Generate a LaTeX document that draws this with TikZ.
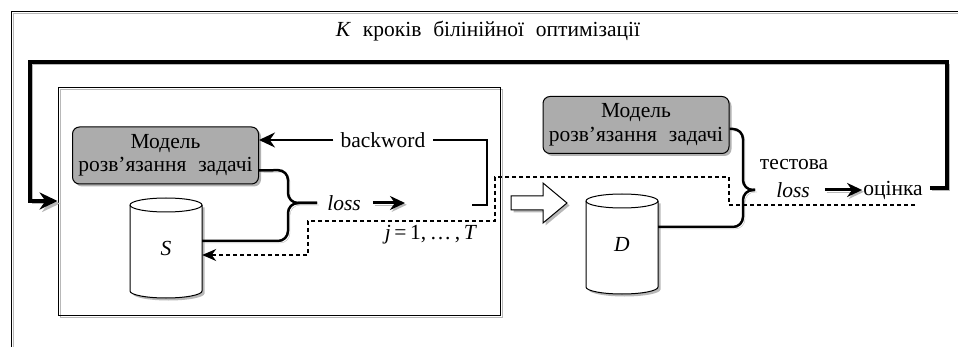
\documentclass[tikz,border=0pt]{standalone}
\usepackage{fontspec}
\setmainfont{Liberation Serif}
\usetikzlibrary{shadows,arrows.meta,calc}

% wide inter-word gap used in the labels
\newcommand\wsp{\hspace{0.55em}}

% a vertical cylinder: centre x, top-ellipse y, bottom-ellipse y
\newcommand\datacyl[3]{%
  \fill[black!28] (#1-36+2.5,#2+2.5) -- (#1-36+2.5,#3+2.5)
    arc[start angle=180,end angle=360,x radius=36pt,y radius=7pt]
    -- (#1+36+2.5,#2+2.5) -- cycle;
  \draw[line width=1pt,fill=white] (#1-36,#2) -- (#1-36,#3)
    arc[start angle=180,end angle=360,x radius=36pt,y radius=7pt]
    -- (#1+36,#2)
    arc[start angle=0,end angle=180,x radius=36pt,y radius=7pt] -- cycle;
  \draw[line width=1pt] (#1-36,#2)
    arc[start angle=180,end angle=360,x radius=36pt,y radius=7pt];
}

\begin{document}
\begin{tikzpicture}[x=1pt,y=-1pt,
  every node/.style={font=\fontsize{21.5}{23.5}\selectfont},
  shd/.style={preaction={draw=black!28,transform canvas={xshift=#1,yshift=-#1}}},
  shd/.default=1.8pt,
  model/.style={draw,line width=1pt,rounded corners=7pt,fill=gray!65,
    minimum width=186pt,minimum height=57pt,align=center,inner sep=0pt,
    drop shadow={shadow xshift=2.5pt,shadow yshift=-2.5pt,fill=black!30,opacity=1}},
  store/.style={minimum width=72pt,minimum height=100pt,inner sep=0pt},
  brc/.style={line width=2.5pt,rounded corners=10pt,shd=2pt},
  loop/.style={line width=4pt,shd=2.5pt,-{Stealth[length=18pt,width=17pt]}},
  dsh/.style={line width=1.1pt,dash pattern=on 4pt off 3pt,
    -{Stealth[length=14pt,width=12pt]}},
  lbl/.style={inner xsep=2pt,inner ysep=2pt}
]
\useasboundingbox (0,0) rectangle (958,347);

% outer frame
\draw[line width=0.9pt,shd=2pt] (11,347) -- (11,11) -- (958,11);

% inner block of the inner loop
\node[draw,line width=0.9pt,shd=2pt,minimum width=442pt,minimum height=228pt,
  inner sep=0pt] (inner) at (279,201) {};

% title
\node (title) at (488,31) {\textit{K}\wsp кроків\wsp білінійної\wsp оптимізації};

% models
\node[model] (m1) at (165.5,155.5) {Модель\\розв’язання\wsp задачі};
\node[model] (m2) at (636,125) {Модель\\розв’язання\wsp задачі};

% data stores
\datacyl{166}{205}{291}
\node[store] (S) at (166,248) {\textit{S}};
\datacyl{622}{201}{287}
\node[store] (D) at (622,244) {\textit{D}};

% hollow transfer arrow
\fill[black!28,shift={(2.5,2.5)}] (511,196) -- (543,196) -- (543,183) -- (567,203)
  -- (543,223) -- (543,210) -- (511,210) -- cycle;
\draw[line width=1pt,fill=white] (511,196) -- (543,196) -- (543,183) -- (567,203)
  -- (543,223) -- (543,210) -- (511,210) -- cycle;

% inner loop: loss and backward pass
\node[lbl] (loss1) at (344,203) {\textit{loss}};
\coordinate (t1) at (317,203);
\draw[brc] ([yshift=-15pt]m1.east) -- (288,170) -- (288,203) -- (t1);
\draw[brc] (t1) -- (288,203) -- (288,241) -- ([yshift=7pt]S.east);
\coordinate (la) at (405,203);
\draw[line width=3pt,shd,-{Stealth[length=15pt,width=14pt]}]
  ([xshift=10pt]loss1.east) -- (la);

\node[inner xsep=7pt] (bw) at (383,140) {backword};
\draw[line width=2pt,-{Stealth[length=16pt,width=15pt]}] (bw.west) -- (m1.east |- bw.west);
\coordinate (bk) at (472,205);
\draw[line width=2pt] (bk) -| (487,140) -- (bw.east);

\node (jT) at (431,235) {\textit{j}\,=\,1,\,\ldots\,,\,\textit{T}};

% outer loop: test loss and evaluation
\node[lbl] (tl) at (794,165) {тестова};
\node[lbl] (loss2) at (793,190) {\textit{loss}};
\node[inner xsep=1pt] (oc) at (893,190) {оцінка};
\coordinate (t2) at (755,190);
\draw[brc] ([yshift=-4pt]m2.east) -- (743,129) -- (743,190) -- (t2);
\draw[brc] (t2) -- (743,190) -- (743,227) -- ([yshift=17pt]D.east);
\draw[line width=3pt,shd,-{Stealth[length=15pt,width=14pt]}]
  ([xshift=13pt]loss2.east) -- (oc.west);

% sampling of tasks (dashed)
\coordinate (de) at (915,205);
\draw[dsh] (de) -| (729,177) -| (495,221) -| (308,255) -- ([yshift=-7pt]S.east);

% K outer steps
\draw[loop] ([xshift=6pt,yshift=2pt]oc.east) -- (947,188) -- (947,62) -- (30,62) |- (inner.west);
\end{tikzpicture}
\end{document}
